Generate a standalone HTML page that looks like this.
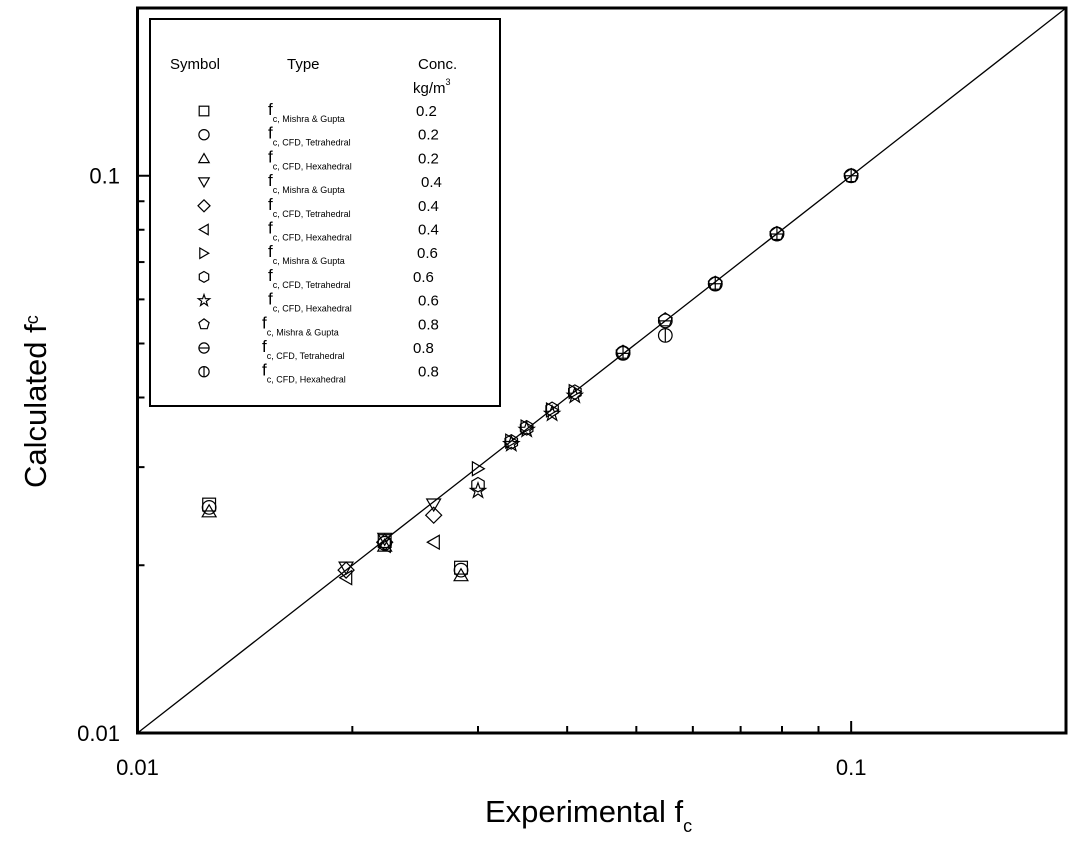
<!DOCTYPE html>
<html><head><meta charset="utf-8"><style>
html,body{margin:0;padding:0;background:#fff;}
svg{display:block;font-family:"Liberation Sans",sans-serif;}
</style></head><body>
<svg id="chart" width="1078" height="846" viewBox="0 0 1078 846">
<g id="plot"></g>
</svg>
<script>
const xMin=0.01,xMax=0.2,yMin=0.01,yMax=0.2;
const xTicks=[0.01,0.02,0.03,0.04,0.05,0.06,0.07,0.08,0.09,0.1,0.2];
const yTicks=[0.01,0.02,0.03,0.04,0.05,0.06,0.07,0.08,0.09,0.1,0.2];
const xTickLabels=["0.01","0.1"];
const yTickLabels=["0.01","0.1"];
const seriesNames=["mishra-02","cfd-tetra-02","cfd-hexa-02","mishra-04","cfd-tetra-04","cfd-hexa-04","mishra-06","cfd-tetra-06","cfd-hexa-06","mishra-08","cfd-tetra-08","cfd-hexa-08"];
const seriesShapes=["square","circle","triangle","tridown","diamond","trileft","triright","hexagon","star","pentagon","theta","phi"];
const seriesTypes=["Mishra & Gupta","CFD, Tetrahedral","CFD, Hexahedral","Mishra & Gupta","CFD, Tetrahedral","CFD, Hexahedral","Mishra & Gupta","CFD, Tetrahedral","CFD, Hexahedral","Mishra & Gupta","CFD, Tetrahedral","CFD, Hexahedral"];
const seriesConc=["0.2","0.2","0.2","0.4","0.4","0.4","0.6","0.6","0.6","0.8","0.8","0.8"];
const xs02=[0.0126,0.0284,0.0222];
const ys02a=[0.0257,0.0198,0.0221];
const ys02b=[0.0254,0.0196,0.0219];
const ys02c=[0.0250,0.0192,0.0217];
const xs04=[0.0196,0.0222,0.0260];
const ys04a=[0.0198,0.0223,0.0257];
const ys04b=[0.0196,0.0220,0.0246];
const ys04c=[0.0190,0.0217,0.0220];
const xs06=[0.0300,0.0334,0.0351,0.0381,0.0410];
const ys06a=[0.0298,0.0334,0.0354,0.0380,0.0410];
const ys06b=[0.0279,0.0333,0.0353,0.0381,0.0409];
const ys06c=[0.0272,0.0330,0.0350,0.0374,0.0403];
const xs08=[0.0479,0.0549,0.0645,0.0787,0.1];
const ys08a=[0.0482,0.0551,0.0641,0.0787,0.1];
const ys08b=[0.0480,0.0549,0.0640,0.0786,0.1];
const ys08c=[0.0481,0.0517,0.0639,0.0786,0.1];
const seriesX=[xs02,xs02,xs02,xs04,xs04,xs04,xs06,xs06,xs06,xs08,xs08,xs08];
const seriesY=[ys02a,ys02b,ys02c,ys04a,ys04b,ys04c,ys06a,ys06b,ys06c,ys08a,ys08b,ys08c];

const L=137.5,R=1066,T=8,B=733;
const X=v=>L+(R-L)*Math.log10(v/xMin)/Math.log10(xMax/xMin);
const Y=v=>B-(B-T)*Math.log10(v/yMin)/Math.log10(yMax/yMin);
const NS="http://www.w3.org/2000/svg";
const g=document.getElementById('plot');
function mk(tag,attrs,parent){const e=document.createElementNS(NS,tag);for(const k in attrs)e.setAttribute(k,attrs[k]);(parent||g).appendChild(e);return e;}
function poly(n,r,rot,cx,cy){let p=[];for(let i=0;i<n;i++){const a=rot+i*2*Math.PI/n;p.push((cx+r*Math.cos(a)).toFixed(1)+','+(cy+r*Math.sin(a)).toFixed(1));}return p.join(' ');}
function marker(shape,cx,cy,s,parent){
  const st={fill:'none',stroke:'#000','stroke-width':1.2};
  const grp=mk('g',{},parent);
  const r=s/2;
  if(shape==='square')mk('rect',Object.assign({x:cx-r*0.8,y:cy-r*0.8,width:r*1.6,height:r*1.6},st),grp);
  else if(shape==='circle'||shape==='theta'||shape==='phi'){mk('circle',Object.assign({cx:cx,cy:cy,r:r*0.85},st),grp);
    if(shape==='theta')mk('line',Object.assign({x1:cx-r*0.85,y1:cy,x2:cx+r*0.85,y2:cy},st),grp);
    if(shape==='phi')mk('line',Object.assign({x1:cx,y1:cy-r*0.85,x2:cx,y2:cy+r*0.85},st),grp);}
  else if(shape==='triangle')mk('polygon',Object.assign({points:poly(3,r,-Math.PI/2,cx,cy+r*0.2)},st),grp);
  else if(shape==='tridown')mk('polygon',Object.assign({points:poly(3,r,Math.PI/2,cx,cy-r*0.2)},st),grp);
  else if(shape==='trileft')mk('polygon',Object.assign({points:poly(3,r,Math.PI,cx+r*0.2,cy)},st),grp);
  else if(shape==='triright')mk('polygon',Object.assign({points:poly(3,r,0,cx-r*0.2,cy)},st),grp);
  else if(shape==='diamond')mk('polygon',Object.assign({points:poly(4,r,0,cx,cy)},st),grp);
  else if(shape==='hexagon')mk('polygon',Object.assign({points:poly(6,r*0.9,-Math.PI/2,cx,cy)},st),grp);
  else if(shape==='pentagon')mk('polygon',Object.assign({points:poly(5,r*0.9,-Math.PI/2,cx,cy)},st),grp);
  else if(shape==='star'){let p=[];for(let i=0;i<10;i++){const rr=i%2?r*0.4:r;const a=-Math.PI/2+i*Math.PI/5;p.push((cx+rr*Math.cos(a)).toFixed(1)+','+(cy+rr*Math.sin(a)).toFixed(1));}mk('polygon',Object.assign({points:p.join(' ')},st),grp);}
  return grp;
}
// axes frame
const frame=mk('rect',{x:L,y:T,width:R-L,height:B-T,fill:'none',stroke:'#000','stroke-width':3});

// ticks
xTicks.forEach(v=>{const major=(v===0.1||v===0.01);const t=mk('line',{x1:X(v),x2:X(v),y1:B,y2:B-(major?12:7),stroke:'#000','stroke-width':2});
});
yTicks.forEach(v=>{const major=(v===0.1||v===0.01);const t=mk('line',{x1:L,x2:L+(major?12:7),y1:Y(v),y2:Y(v),stroke:'#000','stroke-width':2});
});
xTickLabels.forEach(s=>{const t=mk('text',{x:X(parseFloat(s)),y:775,'font-size':22,'text-anchor':'middle'});t.textContent=s;
});
yTickLabels.forEach(s=>{const t=mk('text',{x:120,y:Y(parseFloat(s))+8,'font-size':22,'text-anchor':'end'});t.textContent=s;
});
// titles
const xt=mk('text',{x:485,y:822,'font-size':31});xt.innerHTML='Experimental f<tspan font-size="18" dy="10">c</tspan>';

const yt=mk('text',{transform:'translate(46,488) rotate(-90)','font-size':31});yt.innerHTML='Calculated f<tspan font-size="18" dy="-8">c</tspan>';

// 1:1 line
const ln=mk('line',{x1:X(0.01),y1:Y(0.01),x2:X(0.2),y2:Y(0.2),stroke:'#000','stroke-width':1.3});

// series
seriesNames.forEach((nm,i)=>{const sg=mk('g',{});
  seriesX[i].forEach((xv,j)=>{const m=marker(seriesShapes[i],X(xv),Y(seriesY[i][j]),16,sg);
    });});
// legend
const lg=mk('g',{});
mk('rect',{x:150,y:19,width:350,height:387,fill:'#fff',stroke:'#000','stroke-width':2},lg);
const hd=[['Symbol',170],['Type',287],['Conc.',418]];
hd.forEach(h=>{const t=mk('text',{x:h[1],y:69,'font-size':15},lg);t.textContent=h[0];});
const kg=mk('text',{x:413,y:93,'font-size':15},lg);kg.innerHTML='kg/m<tspan font-size="9" dy="-8">3</tspan>';

seriesNames.forEach((nm,i)=>{const cy=111+i*23.7;
  const e=mk('g',{},lg);
  marker(seriesShapes[i],204,cy,12,e);
  const t=mk('text',{x:i>=9?262:268,y:cy+4,'font-size':17},e);t.innerHTML='f<tspan font-size="9" dy="7">c, '+seriesTypes[i].replace('&','&amp;')+'</tspan>';
  const v=mk('text',{x:[416,418,418,421,418,418,417,413,418,418,413,418][i],y:cy+5,'font-size':15},e);v.textContent=seriesConc[i];});
</script>
</body></html>
